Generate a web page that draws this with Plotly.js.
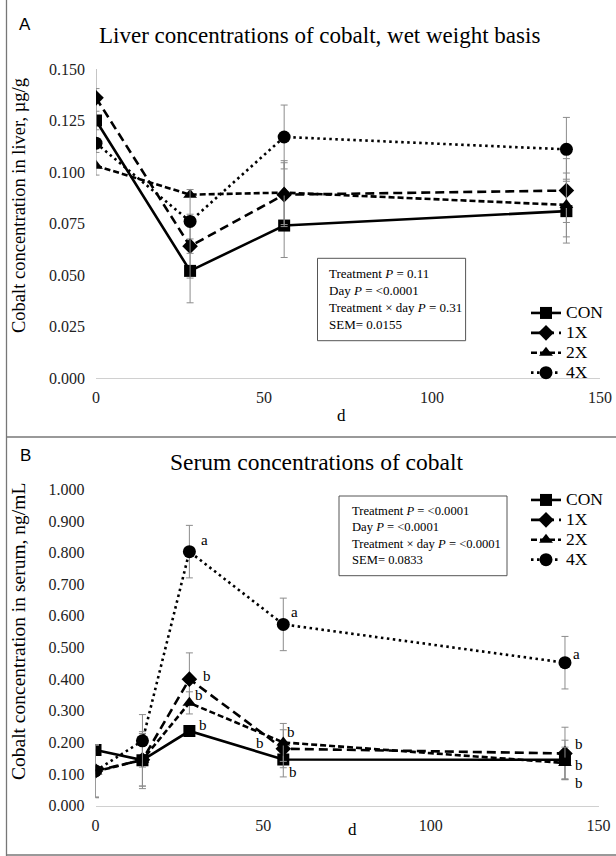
<!DOCTYPE html>
<html>
<head>
<meta charset="utf-8">
<script src="https://cdn.plot.ly/plotly-3.0.1.min.js"></script>
<style>
html,body{margin:0;padding:0;background:#fff;}
#chart{width:616px;height:856px;}
#chart text.legendtext, #chart g[class^="legend"] text{font-size:17.5px !important;}
#chart g.scrollbox, #chart g[class^="legend"] g{clip-path:none !important;}
</style>
</head>
<body>
<div id="chart"></div>
<script>
// ---------- Data: Panel A (liver, µg/g) ----------
const seriesNames = ['CON', '1X', '2X', '4X'];
const daysA = [0, 28, 56, 140];
const liverCON = [0.125, 0.052, 0.074, 0.081];
const liver1X  = [0.136, 0.064, 0.089, 0.091];
const liver2X  = [0.103, 0.089, 0.090, 0.084];
const liver4X  = [0.114, 0.076, 0.117, 0.111];
const liverErrCON = [0.0155, 0.0155, 0.0155, 0.0155];
const liverErr1X  = [0.0155, 0.0155, 0.0155, 0.0155];
const liverErr2X  = [0, 0, 0.0155, 0.0155];
const liverErr4X  = [0.0155, 0.0155, 0.0155, 0.0155];
const statsA = ['Treatment <i>P</i> = 0.11', 'Day <i>P</i> = <0.0001', 'Treatment × day <i>P</i> = 0.31', 'SEM= 0.0155'];

// ---------- Data: Panel B (serum, ng/mL) ----------
const daysB = [0, 14, 28, 56, 140];
const serumCON = [0.176, 0.144, 0.236, 0.146, 0.145];
const serum1X  = [0.110, 0.145, 0.400, 0.180, 0.165];
const serum2X  = [0.108, 0.145, 0.325, 0.200, 0.135];
const serum4X  = [0.110, 0.205, 0.803, 0.573, 0.452];
const serumErrCON = [0, 0.090, 0, 0.055, 0.062];
const serumErr1X  = [0.083, 0.083, 0.083, 0.060, 0.083];
const serumErr2X  = [0.083, 0.083, 0.035, 0.060, 0.050];
const serumErr4X  = [0.083, 0.083, 0.083, 0.083, 0.083];
const lettersCON = ['', '', 'b', 'b', 'b'];
const letters1X  = ['', '', 'b', 'b', 'b'];
const letters2X  = ['', '', 'b', 'b', 'b'];
const letters4X  = ['', '', 'a', 'a', 'a'];
const statsB = ['Treatment <i>P</i> = <0.0001', 'Day <i>P</i> = <0.0001', 'Treatment × day <i>P</i> = <0.0001', 'SEM= 0.0833'];

// ---------- Styles ----------
const W = 616, H = 856;
const px = v => v / W, py = v => 1 - v / H;
const serif = 'Liberation Serif, Times New Roman, serif';
const styles = {
  CON: {dash: 'solid', symbol: 'square', size: 12},
  '1X': {dash: '9px,5px', symbol: 'diamond', size: 12},
  '2X': {dash: '6px,3px', symbol: 'triangle-up', size: 12},
  '4X': {dash: '2.5px,3.5px', symbol: 'circle', size: 13}
};

function mk(name, x, y, err, xa, ya, legend) {
  const s = styles[name];
  return {
    type: 'scatter', mode: 'lines+markers', name: name,
    x: x, y: y, xaxis: xa, yaxis: ya, legend: legend,
    line: {color: '#000', width: 2.6, dash: s.dash},
    marker: {color: '#000', symbol: s.symbol, size: s.size},
    error_y: {type: 'data', array: err, visible: true, color: '#8c8c8c', thickness: 1, width: 3.5},
    hoverinfo: 'skip'
  };
}

const traces = [
  mk('CON', daysA, liverCON, liverErrCON, 'x', 'y', 'legend'),
  mk('1X', daysA, liver1X, liverErr1X, 'x', 'y', 'legend'),
  mk('2X', daysA, liver2X, liverErr2X, 'x', 'y', 'legend'),
  mk('4X', daysA, liver4X, liverErr4X, 'x', 'y', 'legend'),
  mk('CON', daysB, serumCON, serumErrCON, 'x2', 'y2', 'legend2'),
  mk('1X', daysB, serum1X, serumErr1X, 'x2', 'y2', 'legend2'),
  mk('2X', daysB, serum2X, serumErr2X, 'x2', 'y2', 'legend2'),
  mk('4X', daysB, serum4X, serumErr4X, 'x2', 'y2', 'legend2')
];

const tickFont = {family: serif, size: 16, color: '#222'};
function xax(dom, anchor) {
  return {domain: dom, anchor: anchor, range: [0, 150], dtick: 50, tick0: 0, showgrid: false, zeroline: false,
    showline: true, linecolor: '#d0d0d0', linewidth: 1, ticks: '', tickfont: tickFont,
    ticklabelstandoff: 5, automargin: false, fixedrange: true};
}
function yax(dom, rng, dt, anchor) {
  return {domain: dom, anchor: anchor, range: rng, dtick: dt, tick0: 0, tickformat: '.3f', showgrid: false,
    zeroline: false, showline: false, ticks: '', tickfont: tickFont, ticklabelstandoff: 10, automargin: false, fixedrange: true};
}

const annotations = [];
function txt(x, y, text, size, opts) {
  annotations.push(Object.assign({xref: 'paper', yref: 'paper', x: px(x), y: py(y), text: text,
    showarrow: false, font: {family: serif, size: size, color: '#000'}, xanchor: 'center', yanchor: 'middle'}, opts || {}));
}
// Panel labels
txt(25, 25, 'A', 17, {font: {family: 'Liberation Sans, Arial, sans-serif', size: 17, color: '#000'}});
txt(25, 455, 'B', 17, {font: {family: 'Liberation Sans, Arial, sans-serif', size: 17, color: '#000'}});
// Titles
txt(319, 36, 'Liver concentrations of cobalt, wet weight basis', 23);
txt(316, 462, 'Serum concentrations of cobalt', 23.5);
// Axis titles
txt(19, 206, 'Cobalt concentration in liver, µg/g', 18.5, {textangle: -90});
txt(18, 632, 'Cobalt concentration in serum, ng/mL', 19.5, {textangle: -90});
txt(341, 415, 'd', 17);
txt(352, 829, 'd', 17);
// Stats boxes
txt(327, 264, statsA.join('<br>'), 13, {xanchor: 'left', yanchor: 'top', align: 'left'});
txt(349.7, 502, statsB.join('<br>'), 12.6, {xanchor: 'left', yanchor: 'top', align: 'left'});

// Significance letters (B)
const letterOffsets = {
  CON: [null, null, [14, -6], [10, 12], [14, 23]],
  '1X': [null, null, [18, -3], [-23, -6], [14, -9]],
  '2X': [null, null, [10, -8], [8, -10], [14, 2]],
  '4X': [null, null, [15, -12], [11, -12], [12, -9]]
};
[['CON', serumCON, lettersCON], ['1X', serum1X, letters1X], ['2X', serum2X, letters2X], ['4X', serum4X, letters4X]]
  .forEach(([n, vals, lets]) => {
    lets.forEach((l, i) => {
      if (!l) return;
      const off = letterOffsets[n][i];
      annotations.push({xref: 'x2', yref: 'y2', x: daysB[i], y: vals[i], text: l, showarrow: false,
        xshift: off[0], yshift: -off[1], font: {family: serif, size: 15, color: '#000'}});
    });
  });

const shapes = [
  // stats boxes
  {type: 'rect', xref: 'paper', yref: 'paper', x0: px(317.5), x1: px(465.6), y0: py(340.7), y1: py(258.3), line: {color: '#555', width: 1}},
  {type: 'rect', xref: 'paper', yref: 'paper', x0: px(339), x1: px(507), y0: py(575.7), y1: py(496), line: {color: '#555', width: 1}},
  // panel borders
  {type: 'line', xref: 'paper', yref: 'paper', x0: px(6.5), x1: px(6.5), y0: 0, y1: 1, line: {color: '#777', width: 1.3}},
  {type: 'line', xref: 'paper', yref: 'paper', x0: px(6.5), x1: 1, y0: py(437), y1: py(437), line: {color: '#777', width: 1.3}},
  {type: 'line', xref: 'paper', yref: 'paper', x0: px(6.5), x1: 1, y0: py(855), y1: py(855), line: {color: '#777', width: 1.3}}
];

const legendFont = {family: serif, size: 13, color: '#000'};
const layout = {
  width: W, height: H, margin: {l: 0, r: 0, t: 0, b: 0, autoexpand: false}, paper_bgcolor: '#fff', plot_bgcolor: 'rgba(0,0,0,0)',
  showlegend: true,
  xaxis: xax([px(96), px(600)], 'y'),
  yaxis: yax([py(378), py(69)], [0, 0.15], 0.025, 'x'),
  xaxis2: xax([px(95.5), px(598.5)], 'y2'),
  yaxis2: yax([py(805.7), py(489.3)], [0, 1.0], 0.1, 'x2'),
  legend: {x: px(526), y: py(298), xanchor: 'left', yanchor: 'top', font: legendFont, bgcolor: 'rgba(0,0,0,0)', borderwidth: 0, tracegroupgap: 0},
  legend2: {x: px(526), y: py(485), xanchor: 'left', yanchor: 'top', font: legendFont, bgcolor: 'rgba(0,0,0,0)', borderwidth: 0, tracegroupgap: 0},
  annotations: annotations,
  shapes: shapes
};

Plotly.newPlot('chart', traces, layout, {staticPlot: true, displayModeBar: false}).then(function (gd) {
  gd.querySelectorAll('text.legendtext').forEach(function (t) { t.style.setProperty('font-size', '17.5px', 'important'); });
  gd.querySelectorAll('g.scrollbox').forEach(function (g) { g.removeAttribute('clip-path'); g.style.setProperty('clip-path', 'none', 'important'); });
});
</script>
</body>
</html>
